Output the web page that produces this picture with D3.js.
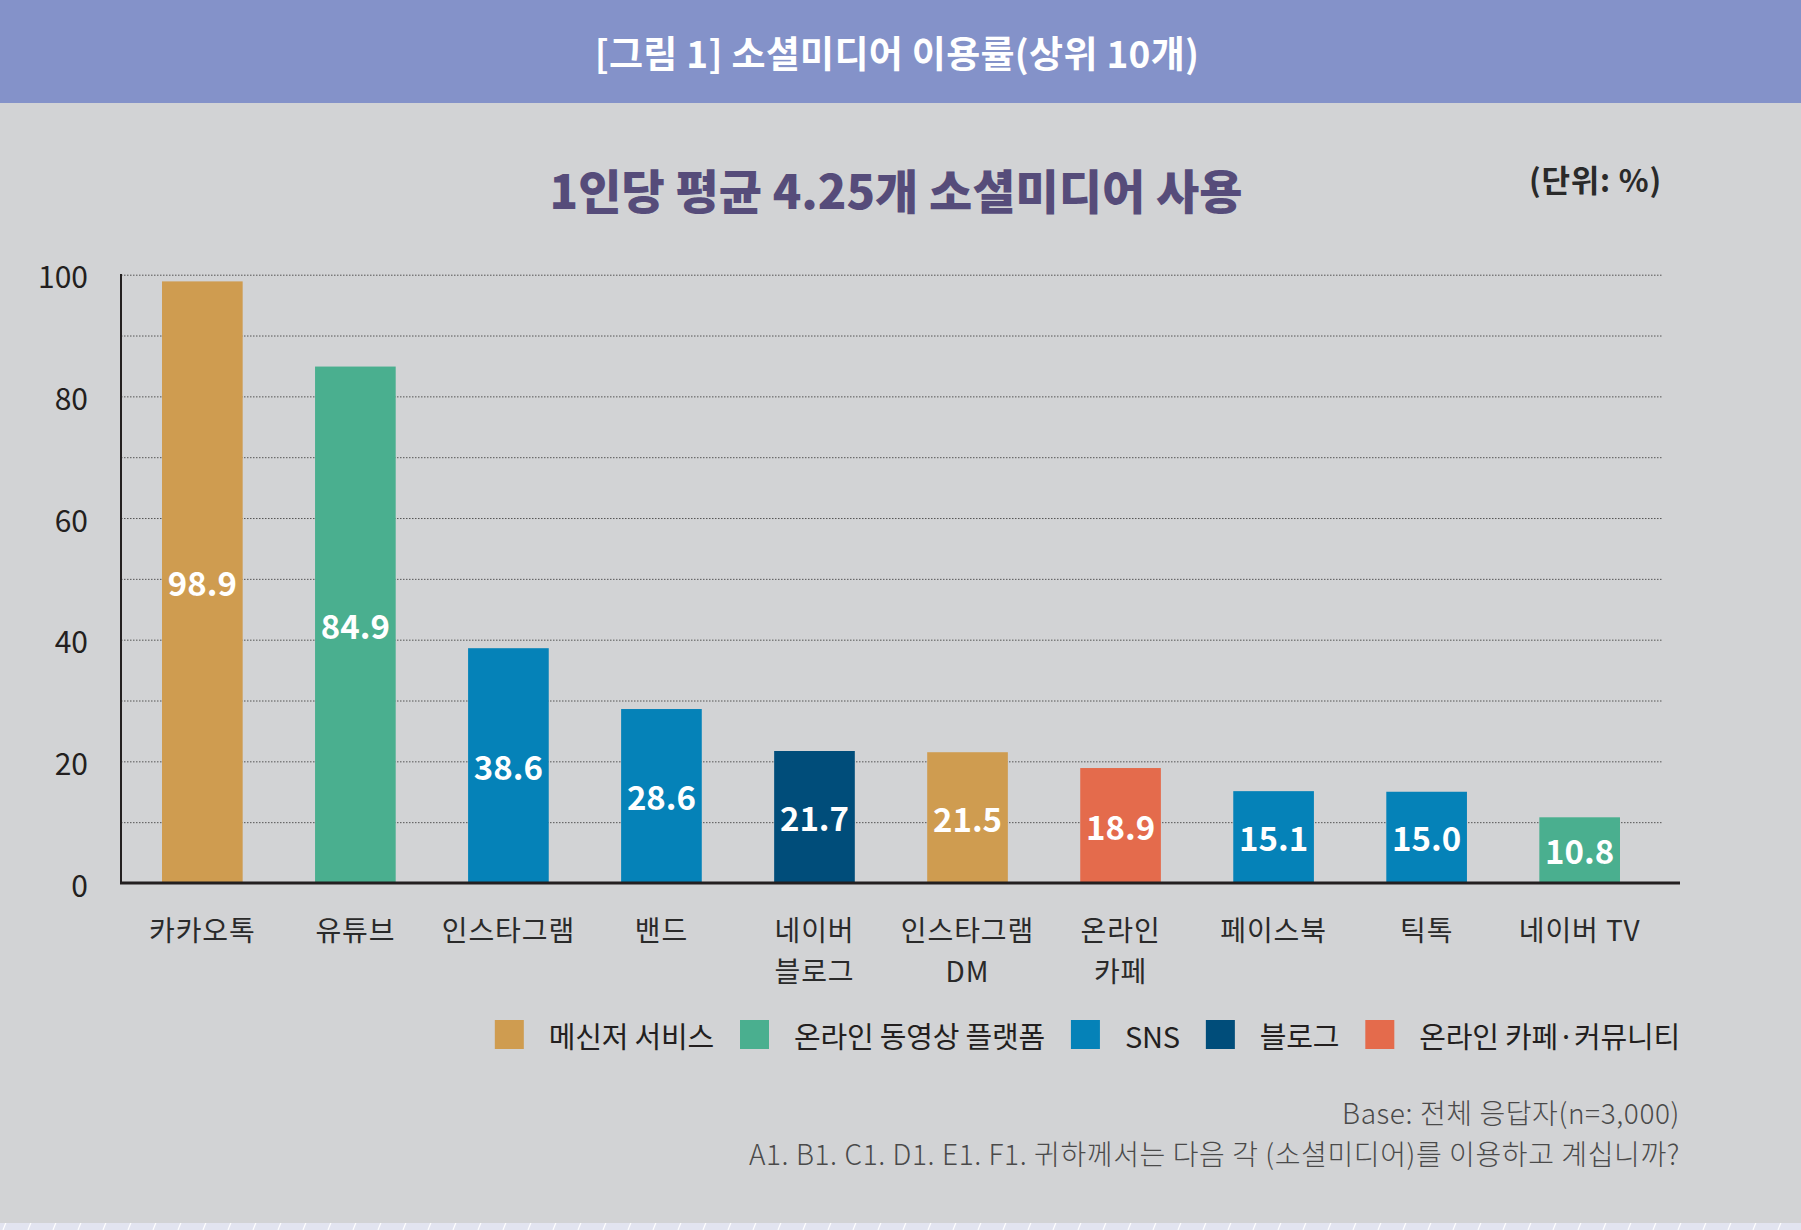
<!DOCTYPE html>
<html><head><meta charset="utf-8">
<script src="https://cdn.jsdelivr.net/npm/d3@7"></script>
<style>
html,body{margin:0;padding:0;background:#D2D3D5;}
svg{display:block;}
text{font-family:"Noto Sans CJK KR","Noto Sans",sans-serif;}
</style></head>
<body>
<svg id="chart" width="1801" height="1230"></svg>
<script>
const categories = ["카카오톡","유튜브","인스타그램","밴드","네이버\n블로그","인스타그램\nDM","온라인\n카페","페이스북","틱톡","네이버 TV"];
const values = [98.9, 84.9, 38.6, 28.6, 21.7, 21.5, 18.9, 15.1, 15.0, 10.8];
const groups = ["메신저 서비스","온라인 동영상 플랫폼","SNS","SNS","블로그","메신저 서비스","온라인 카페·커뮤니티","SNS","SNS","온라인 동영상 플랫폼"];
const groupNames = ["메신저 서비스","온라인 동영상 플랫폼","SNS","블로그","온라인 카페·커뮤니티"];
const groupColors = ["#CF9C50","#4AAF8F","#0582B8","#004D7A","#E46B4C"];
const yTicks = [0,20,40,60,80,100];
const gridTicks = [10,20,30,40,50,60,70,80,90,100];
const headerTitle = "[그림 1] 소셜미디어 이용률(상위 10개)";
const subTitle = "1인당 평균 4.25개 소셜미디어 사용";
const unitText = "(단위: %)";
const notes = ["Base: 전체 응답자(n=3,000)","A1. B1. C1. D1. E1. F1. 귀하께서는 다음 각 (소셜미디어)를 이용하고 계십니까?"];

const svg = d3.select("#chart");
const W = 1801, H = 1230;

// background
svg.append("rect").attr("width",W).attr("height",H).attr("fill","#D2D3D5");
// header band
svg.append("rect").attr("x",0).attr("y",0).attr("width",W).attr("height",103).attr("fill","#8492C9");
svg.append("text").attr("x",897).attr("y",52).attr("text-anchor","middle").attr("dominant-baseline","central")
  .attr("fill","#fff").attr("font-size",37).attr("font-weight",700).attr("letter-spacing",0.3).text(headerTitle);

// bottom decorative strip
const defs = svg.append("defs");
const pat = defs.append("pattern").attr("id","slash").attr("patternUnits","userSpaceOnUse").attr("width",25).attr("height",10);
pat.append("rect").attr("width",25).attr("height",10).attr("fill","#E2E4F0");
pat.append("line").attr("x1",3).attr("y1",10).attr("x2",7).attr("y2",0).attr("stroke","#fff").attr("stroke-width",1.2);
svg.append("rect").attr("x",0).attr("y",1223).attr("width",W).attr("height",7).attr("fill","url(#slash)");

// subtitle & unit
svg.append("text").attr("x",896).attr("y",188).attr("text-anchor","middle").attr("dominant-baseline","central")
  .attr("fill","#564C7A").attr("font-size",47).attr("font-weight",900).attr("letter-spacing",0).text(subTitle);
svg.append("text").attr("x",1662).attr("y",178).attr("text-anchor","end").attr("dominant-baseline","central")
  .attr("fill","#2a2a2a").attr("font-size",31).attr("font-weight",700).attr("letter-spacing",0.8).text(unitText);

// scales
const y = d3.scaleLinear().domain([0,100]).range([883,274.7]);
const x = d3.scaleBand().domain(d3.range(categories.length)).range([121,1661]).paddingInner(0.473).paddingOuter(0.268);
const color = d3.scaleOrdinal().domain(groupNames).range(groupColors);

// gridlines
const grid = svg.append("g").attr("transform","translate(121,0)")
  .call(d3.axisLeft(y).tickValues(gridTicks).tickSize(-(1662-121)).tickFormat(""));
grid.select(".domain").remove();
grid.selectAll("line").attr("stroke","#555").attr("stroke-width",1).attr("stroke-dasharray","1.5,1.5");

// bars
svg.append("g").selectAll("rect").data(values).join("rect")
  .attr("x",(d,i)=>x(i)).attr("width",x.bandwidth())
  .attr("y",d=>y(d)).attr("height",d=>y(0)-y(d))
  .attr("fill",(d,i)=>color(groups[i]));

// value labels
svg.append("g").selectAll("text").data(values).join("text")
  .attr("x",(d,i)=>x(i)+x.bandwidth()/2).attr("y",d=>(y(d)+y(0))/2)
  .attr("text-anchor","middle").attr("dominant-baseline","central")
  .attr("fill","#fff").attr("font-size",33).attr("font-weight",600)
  .text(d=>d.toFixed(1));

// y axis labels
const yAx = svg.append("g").attr("transform","translate(121,0)")
  .call(d3.axisLeft(y).tickValues(yTicks).tickSize(0).tickPadding(33));
yAx.select(".domain").remove();
yAx.selectAll("text").attr("font-size",30).attr("fill","#231F20").attr("font-family","\"Noto Sans CJK KR\",sans-serif").attr("dominant-baseline","central").attr("dy",null);

// axis lines
svg.append("line").attr("x1",121).attr("x2",121).attr("y1",274).attr("y2",884).attr("stroke","#231F20").attr("stroke-width",2);
svg.append("line").attr("x1",120).attr("x2",1680).attr("y1",883).attr("y2",883).attr("stroke","#231F20").attr("stroke-width",3);

// x axis labels
const xAx = svg.append("g").attr("transform","translate(0,883)")
  .call(d3.axisBottom(x).tickSize(0).tickFormat(""));
xAx.select(".domain").remove();
xAx.selectAll(".tick").each(function(d){
  const lines = categories[d].split("\n");
  const g = d3.select(this);
  lines.forEach((ln,k)=>{
    g.append("text").attr("fill","#2a2a2a").attr("font-size",28)
      .attr("text-anchor","middle").attr("letter-spacing",0.9)
      .attr("x",0).attr("y",46+k*41).attr("dominant-baseline","central").text(ln);
  });
});

// legend (right aligned to 1680)
const legend = svg.append("g");
const items = legend.selectAll("g").data(groupNames).join("g");
items.append("rect").attr("width",29).attr("height",29).attr("y",1020).attr("fill",d=>color(d));
items.append("text").attr("x",54).attr("y",1035).attr("dominant-baseline","central")
  .attr("font-size",29).attr("fill","#231F20").attr("letter-spacing",-0.2).text(d=>d);
let widths = [];
items.each(function(){ widths.push(54 + d3.select(this).select("text").node().getComputedTextLength()); });
const gap = 26;
const total = d3.sum(widths) + gap*(widths.length-1);
let cx = 1680 - total;
items.each(function(d,i){ d3.select(this).attr("transform",`translate(${cx},0)`); cx += widths[i] + gap; });

// notes
svg.append("g").selectAll("text").data(notes).join("text")
  .attr("x",1680).attr("y",(d,i)=>1112+i*41).attr("text-anchor","end").attr("dominant-baseline","central")
  .attr("font-size",28).attr("fill","#4a4a4a").attr("font-weight",300).attr("letter-spacing",0.6).text(d=>d);
</script>
</body></html>
